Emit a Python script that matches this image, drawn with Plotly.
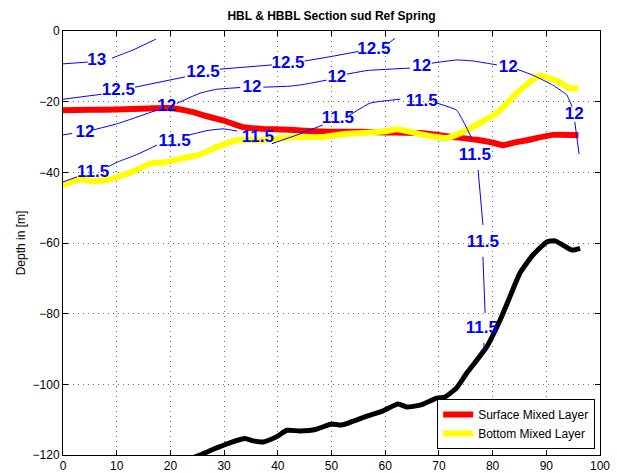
import plotly.graph_objects as go

# Along-section distance and depth of the surface mixed layer base
sml_x = [0, 5, 10, 16, 20, 24, 27, 30, 33.5, 37, 41, 45, 50, 55, 60, 66.5, 72.6, 77, 80, 82, 84, 86.4, 91.2, 96]
sml_y = [-22.4, -22.3, -22.2, -21.9, -21.8, -22.9, -24.2, -25.4, -27.2, -27.7, -27.9, -28.2, -28.5, -28.5, -28.7,
         -28.9, -30.0, -30.8, -31.6, -32.3, -31.6, -30.9, -29.4, -29.5]

# Top of the bottom mixed layer
bml_x = [0, 1.5, 3.2, 5.6, 8, 10, 13, 16.5, 19, 22.3, 25.5, 28.7, 32.4, 36.7, 41, 44, 48.4, 52, 56.6, 60, 62.2,
         65.9, 68.5, 71.5, 74.5, 77, 80.8, 84.5, 87, 88.8, 92, 94.4, 96]
bml_y = [-43.6, -42.8, -41.9, -42.5, -42.2, -41.4, -39.8, -37.4, -37.2, -36.0, -35.0, -32.8, -30.9, -30.9, -30.3,
         -30.0, -30.0, -29.2, -28.8, -28.4, -27.8, -29.0, -29.8, -30.3, -28.6, -26.6, -23.2, -17.6, -14.4, -12.7,
         -14.1, -16.2, -16.2]

# Sea floor
bottom_x = [24.5, 25.5, 28.6, 31.7, 33.9, 35.4, 37.3, 39.8, 41.7, 44.1, 47.2, 50, 51.9, 56.6, 59.6, 62.4, 64,
            66.5, 69.6, 71.1, 73.3, 75.2, 78.9, 81.4, 83.2, 85.1, 87.5, 90.1, 91.6, 93.1, 94.8, 96.3]
bottom_y = [-120.6, -120, -118, -116.2, -115.3, -116, -116.3, -114.8, -113, -113.2, -112.7, -111.2, -111.5, -109,
            -107.5, -105.6, -106.4, -105.9, -103.9, -103.6, -101, -96.8, -89.4, -81.8, -75.3, -68.5, -63.4, -59.7,
            -59.4, -60.6, -62, -61.5]

# Temperature isolines (None breaks the line where a label sits)
iso13_x = [0, 4.6, None, 9.1, 10.6, 13, 17.3]
iso13_y = [-9.3, -8.8, None, -7.7, -6.8, -5.4, -2.3]
iso13_lx = [6.3]
iso13_ly = [-8.5]

iso125_x = [0, 7.2, None, 13.4, 22.7, None, 29.2, 38.9, None, 45, 50, 55, None, 60.6, 61.8]
iso125_y = [-19.3, -17.9, None, -15.9, -13.0, None, -10.8, -9.6, None, -8.5, -7.2, -5.8, None, -3.5, -2.1]
iso125_lx = [10.3, 26.1, 41.9, 57.9]
iso125_ly = [-17.0, -11.7, -9.4, -5.2]

iso12_x = [0, 1.7, None, 5.6, 10, 17.5, None, 21.2, 25.5, 28.6, 33, None, 37.3, 42.3, 44.5, 49.1, None,
           52.9, 56.6, 64.6, None, 68.7, 73.3, 76.4, 80.8, None, 84.5, 87.5, 91.2, 93.8, 94.8, None, 95.3, 96.1]
iso12_y = [-29.4, -29.0, None, -28.0, -26.3, -22.4, None, -20.5, -17.6, -16.5, -16.0, None, -15.9, -15.6, -15.2,
           -13.9, None, -12.2, -11.2, -10.5, None, -9.1, -8.2, -8.5, -9.6, None, -10.8, -12.5, -15.3, -18.1,
           -21.4, None, -25.7, -34.8]
iso12_lx = [4.1, 19.3, 35.2, 51.0, 66.8, 82.9, 95.2]
iso12_ly = [-28.8, -21.4, -16.2, -13.1, -10.1, -10.5, -23.8]

iso115_x = [0, 2.6, None, 8.4, 10.3, 13.7, 17.5, None, 23.6, 26.8, 29.8, 32.4, None, 38.9, 43.6, 48.4, None,
            53.4, 57.2, 62.8, None, 69.6, 73.3, 74.9, 76.2, None, 77.3, 78.2, None, 78.2, 78.6, None, 78.4, 78.4]
iso115_y = [-42.7, -41.3, None, -38.4, -37.0, -35.0, -32.3, None, -29.4, -28.2, -27.7, -28.3, None, -31.9,
            -29.4, -26.6, None, -23.8, -20.4, -19.3, None, -20.4, -22.4, -26.6, -30.7, None, -39.3, -54.9, None,
            -63.9, -79.8, None, -88.3, -90.9]
iso115_lx = [5.6, 20.8, 36.3, 51.2, 66.8, 76.7, 78.2, 78.0]
iso115_ly = [-40.0, -31.4, -30.2, -24.9, -20.0, -35.4, -60.0, -84.3]

x_ticks = [0, 10, 20, 30, 40, 50, 60, 70, 80, 90, 100]
y_ticks = [-120, -100, -80, -60, -40, -20, 0]

FONT = "Liberation Sans, Arial, Helvetica, sans-serif"

fig = go.Figure()

fig.add_trace(go.Scatter(x=sml_x, y=sml_y, mode="lines", name="Surface Mixed Layer",
                         line=dict(color="#ff0000", width=6, shape="spline", smoothing=0.5)))
fig.add_trace(go.Scatter(x=bml_x, y=bml_y, mode="lines", name="Bottom Mixed Layer",
                         line=dict(color="#ffff00", width=6, shape="spline", smoothing=0.5)))
fig.add_trace(go.Scatter(x=bottom_x, y=bottom_y, mode="lines", showlegend=False,
                         line=dict(color="black", width=5, shape="spline", smoothing=0.5)))

for xs, ys in [(iso13_x, iso13_y), (iso125_x, iso125_y), (iso12_x, iso12_y), (iso115_x, iso115_y)]:
    fig.add_trace(go.Scatter(x=xs, y=ys, mode="lines", showlegend=False, connectgaps=False,
                             line=dict(color="#0000ff", width=1, shape="spline", smoothing=0.4)))

for lx, ly, lvl in [(iso13_lx, iso13_ly, "13"), (iso125_lx, iso125_ly, "12.5"),
                    (iso12_lx, iso12_ly, "12"), (iso115_lx, iso115_ly, "11.5")]:
    fig.add_trace(go.Scatter(x=lx, y=ly, mode="text", text=[lvl] * len(lx), showlegend=False,
                             textposition="middle center",
                             textfont=dict(color="#0000ff", size=17, family=FONT, weight="bold")))

axis_common = dict(
    showline=True, linecolor="black", linewidth=1, mirror="ticks",
    ticks="inside", ticklen=5, tickcolor="black", tickwidth=1,
    showgrid=True, gridcolor="#6e6e6e", griddash="1px,4px", gridwidth=1,
    zeroline=False, tickfont=dict(family=FONT, size=12, color="black"),
)

fig.update_xaxes(range=[0, 100], tickvals=x_ticks, **axis_common)
fig.update_yaxes(range=[-120, 0], tickvals=y_ticks,
                 title=dict(text="Depth in [m]", font=dict(family=FONT, size=12, color="black"), standoff=4),
                 **axis_common)

fig.update_layout(
    width=617, height=473,
    margin=dict(l=63, r=17, t=31, b=18, autoexpand=False),
    paper_bgcolor="white", plot_bgcolor="white",
    title=dict(text="<b>HBL & HBBL Section sud Ref Spring</b>", x=0.5, xref="paper",
               y=1 - 16 / 473, yref="container", yanchor="middle",
               font=dict(family=FONT, size=12, color="black")),
    legend=dict(x=0.991, y=0.014, xanchor="right", yanchor="bottom",
                bgcolor="white", bordercolor="black", borderwidth=1,
                font=dict(family=FONT, size=12, color="black"),
                tracegroupgap=0, itemwidth=30),
    showlegend=True,
)

fig.write_html("out.html")
